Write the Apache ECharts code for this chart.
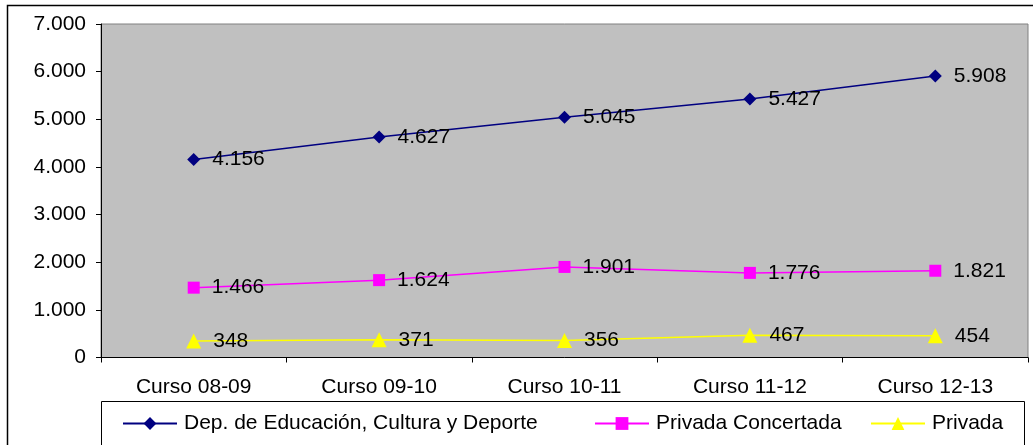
<!DOCTYPE html>
<html><head><meta charset="utf-8">
<script src="https://cdn.jsdelivr.net/npm/echarts@6/dist/echarts.min.js"></script>
<style>html,body{margin:0;padding:0;background:#fff}#c{width:1033px;height:445px}</style>
</head><body><div id="c"></div>
<script>
var categories = ['Curso 08-09','Curso 09-10','Curso 10-11','Curso 11-12','Curso 12-13'];
var seriesNames = ['Dep. de Educación, Cultura y Deporte','Privada Concertada','Privada'];
var depValues = [4156, 4627, 5045, 5427, 5908];
var concertadaValues = [1466, 1624, 1901, 1776, 1821];
var privadaValues = [348, 371, 356, 467, 454];
var yTicks = [0, 1000, 2000, 3000, 4000, 5000, 6000, 7000];

var FONT = "'Liberation Sans', Arial, sans-serif";
var FS = 21;
function fmt(v){ return String(v).replace(/\B(?=(\d{3})+(?!\d))/g, '.'); }

var chart = echarts.init(document.getElementById('c'), null, {renderer:'canvas'});
function mkSeries(name, data, color, symbol, size){
  return {
    name: name, type: 'line', data: data,
    symbol: symbol, symbolSize: size,
    itemStyle: {color: color},
    lineStyle: {color: color, width: 1.5},
    label: {show: true, position: 'right', distance: 12, color: '#000',
      fontFamily: FONT, fontSize: FS,
      formatter: function(p){ return fmt(p.value); }},
    animation: false
  };
}
function mkLegend(name, left){
  return {data:[name], left:left, top:413, padding:0, itemWidth:54, itemHeight:16,
    textStyle:{fontFamily:FONT, fontSize:FS, color:'#000', padding:[0,0,0,2]},
    selectedMode:false};
}
chart.setOption({
  animation: false,
  backgroundColor: '#fff',
  graphic: [
    {type:'rect', shape:{x:7.5, y:5.5, width:1200, height:600}, style:{fill:'none', stroke:'#000', lineWidth:1.5}, z:-10},
    {type:'rect', shape:{x:101.5, y:401.5, width:923, height:100}, style:{fill:'#fff', stroke:'#000', lineWidth:1}, z:-5}
  ],
  grid: {left:101, right:5, top:24, bottom:87.5, show:true, backgroundColor:'#C0C0C0', borderColor:'#808080', borderWidth:1},
  legend: [mkLegend(seriesNames[0], 122), mkLegend(seriesNames[1], 594), mkLegend(seriesNames[2], 870)],
  xAxis: {
    type:'category', data: categories, boundaryGap:true,
    axisLine:{show:true, lineStyle:{color:'#000', width:1}},
    axisTick:{show:true, length:5, lineStyle:{color:'#000'}},
    axisLabel:{color:'#000', fontFamily:FONT, fontSize:FS, margin:19},
    splitLine:{show:false}
  },
  yAxis: {
    type:'value', min:yTicks[0], max:yTicks[yTicks.length-1], interval:1000,
    axisLine:{show:true, lineStyle:{color:'#000', width:1}},
    axisTick:{show:true, length:5, lineStyle:{color:'#000'}},
    axisLabel:{color:'#000', fontFamily:FONT, fontSize:FS, margin:15, formatter: fmt},
    splitLine:{show:false}
  },
  series: [
    mkSeries(seriesNames[0], depValues, '#000080', 'diamond', 13),
    mkSeries(seriesNames[1], concertadaValues, '#FF00FF', 'rect', 12),
    mkSeries(seriesNames[2], privadaValues, '#FFFF00', 'triangle', 15)
  ]
});
</script></body></html>
